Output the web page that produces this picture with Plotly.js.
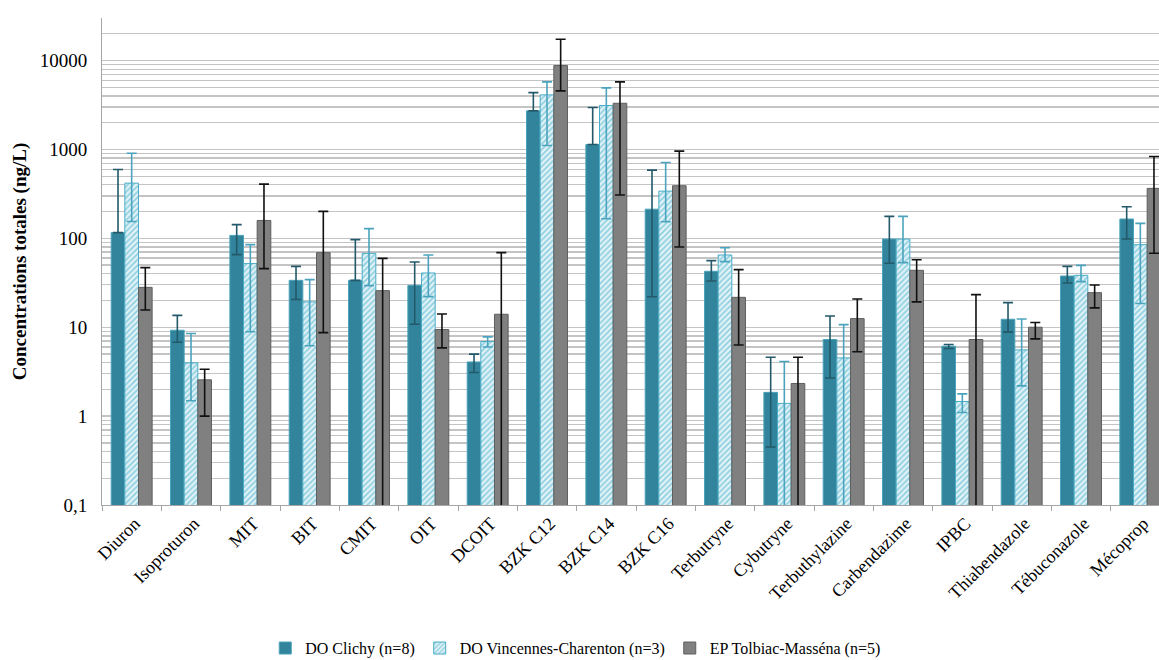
<!DOCTYPE html>
<html>
<head>
<meta charset="utf-8">
<script src="https://cdn.plot.ly/plotly-3.0.1.min.js"></script>
<style>
html,body{margin:0;padding:0;overflow:hidden;background:#fff;}
#chart{width:1175px;height:660px;}
</style>
</head>
<body>
<div id="chart"></div>
<script>
const categories = ["Diuron","Isoproturon","MIT","BIT","CMIT","OIT","DCOIT","BZK C12","BZK C14","BZK C16","Terbutryne","Cybutryne","Terbuthylazine","Carbendazime","IPBC","Thiabendazole","Tébuconazole","Mécoprop"];

const seriesNames = ["DO Clichy (n=8)","DO Vincennes-Charenton (n=3)","EP Tolbiac-Masséna (n=5)"];

const clichy       = [116, 9.25, 108, 33.7, 33.7, 29.6, 4.07, 2718, 1138, 213, 42.6, 1.85, 7.28, 98.2, 6.12, 12.3, 37.7, 165];
const clichyPlus   = [480, 4.35, 34.6, 14.7, 63, 24.6, 0.91, 1647, 1827, 373, 13.5, 2.75, 6.1, 78.4, 0.27, 6.6, 10.7, 62];
const clichyMinus  = [0, 2.47, 42.4, 13.2, 0, 18.8, 0.97, 0, 0, 191, 9.5, 1.4, 4.6, 45.8, 0.36, 3.5, 6.2, 66.8];

const vincennes      = [418, 3.97, 52, 19.3, 67.8, 40.8, 6.9, 4114, 3119, 340, 65, 1.39, 4.52, 98.2, 1.46, 5.56, 38.4, 84.9];
const vincennesPlus  = [490, 4.53, 32.9, 15, 60.7, 24.2, 0.88, 1640, 1813, 374, 13.5, 2.73, 6.18, 78.4, 0.32, 6.84, 11.3, 62.6];
const vincennesMinus = [263, 2.48, 43.1, 13.1, 38.4, 18.7, 0.9, 3005, 2953, 186, 10.3, 2.73, 6.18, 44.9, 0.36, 3.37, 5.8, 66.4];

const tolbiac      = [28.1, 2.56, 159, 69, 25.8, 9.42, 14.0, 8790, 3311, 391, 21.7, 2.33, 12.5, 43.7, 7.28, 10.0, 24.5, 365];
const tolbiacPlus  = [18.8, 0.81, 248, 132, 33.8, 4.68, 55, 8588, 2443, 566, 22.8, 2.27, 8.3, 13.8, 16.0, 1.3, 5.4, 469];
const tolbiacMinus = [12.5, 1.56, 113.4, 60.3, 33.8, 3.56, 55, 4230, 3004, 311, 15.4, 2.4, 7.2, 24.4, 16.0, 2.61, 8.0, 297];

const yTickVals = [0.1, 1, 10, 100, 1000, 10000];
const yTickText = ["0,1", "1", "10", "100", "1000", "10000"];
const yTitle = "Concentrations totales (ng/L)";
const yMax = 30000;

// grid lines at every 1..9 x decade (labels only on decades)
const gridVals = [], gridText = [];
yTickVals.forEach((d, i) => {
  for (let k = 1; k <= 9; k++) {
    const v = d * k;
    if (v > yMax) break;
    gridVals.push(v);
    gridText.push(k === 1 ? yTickText[i] : "");
  }
});

const serif = "Liberation Serif";

const traces = [
  {
    type: "bar", name: seriesNames[0], x: categories, y: clichy,
    marker: {color: "#31849b", line: {color: "#4aa3ba", width: 1}},
    error_y: {type: "data", symmetric: false, array: clichyPlus, arrayminus: clichyMinus,
              color: "#23596a", thickness: 1.6, width: 5}
  },
  {
    type: "bar", name: seriesNames[1], x: categories, y: vincennes,
    marker: {color: "#c6e6ef", line: {color: "#4bacc6", width: 1},
             pattern: {shape: "/", fgcolor: "#8fd0e0", bgcolor: "#e3f3f8", size: 4, solidity: 0.45}},
    error_y: {type: "data", symmetric: false, array: vincennesPlus, arrayminus: vincennesMinus,
              color: "#4ba3bd", thickness: 1.6, width: 5}
  },
  {
    type: "bar", name: seriesNames[2], x: categories, y: tolbiac,
    marker: {color: "#808080", line: {color: "#5f5f5f", width: 1}},
    error_y: {type: "data", symmetric: false, array: tolbiacPlus, arrayminus: tolbiacMinus,
              color: "#111111", thickness: 1.6, width: 5}
  }
];

const layout = {
  width: 1175, height: 660,
  margin: {l: 102, r: 5, t: 18, b: 155},
  paper_bgcolor: "#ffffff", plot_bgcolor: "#ffffff",
  barmode: "group", bargap: 0.31, bargroupgap: 0,
  font: {family: serif, color: "#000000"},
  showlegend: true,
  legend: {
    orientation: "h", xref: "container", yref: "container",
    x: 0.49, xanchor: "center", y: 0.018, yanchor: "middle",
    font: {family: serif, size: 16, color: "#000000"},
    itemwidth: 30, traceorder: "normal"
  },
  xaxis: {
    type: "category",
    tickangle: -45,
    tickfont: {family: serif, size: 18, color: "#000"},
    ticklabelshift: 3,
    showline: true, linecolor: "#a6a6a6", linewidth: 1,
    ticks: "outside", ticklen: 5, tickcolor: "#a6a6a6", tickson: "boundaries",
    showgrid: false, zeroline: false
  },
  yaxis: {
    type: "log",
    range: [Math.log10(0.1), Math.log10(yMax) + 0.002],
    tickmode: "array", tickvals: gridVals, ticktext: gridText,
    tickfont: {family: serif, size: 19, color: "#000"},
    ticklabelstandoff: 10,
    ticks: "", showline: true, linecolor: "#a6a6a6", linewidth: 1,
    showgrid: true, gridcolor: "#c4c4c4", gridwidth: 1.3,
    zeroline: false,
    title: {text: "<b>" + yTitle + "</b>", font: {family: serif, size: 19, color: "#000"}, standoff: 8}
  }
};

Plotly.newPlot("chart", traces, layout, {displayModeBar: false, staticPlot: true});
</script>
</body>
</html>
